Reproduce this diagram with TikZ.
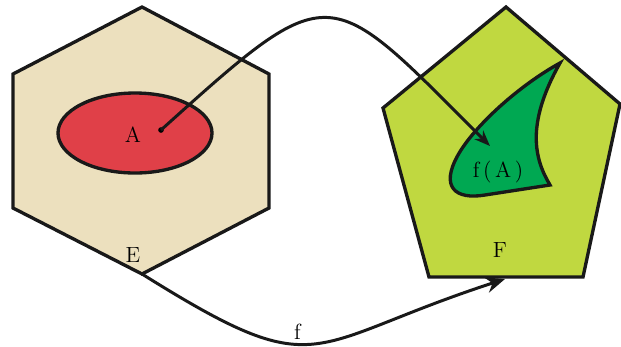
\documentclass[tikz,border=0pt]{standalone}
\usepackage{tikz}
\usetikzlibrary{arrows.meta, calc}
\definecolor{sandE}{RGB}{236,224,190}
\definecolor{redA}{RGB}{224,64,72}
\definecolor{limeF}{RGB}{192,216,64}
\definecolor{greenfA}{RGB}{0,168,82}

\begin{document}
\begin{tikzpicture}[x=0.02cm,y=-0.02cm,
    region/.style={draw=black!90,line width=1.9pt,line join=miter},
    map/.style={draw=black!90,line width=1.7pt},
    lbl/.style={font=\fontsize{12.5}{14}\selectfont,inner sep=1pt}]
    \useasboundingbox (0,0) rectangle (621,346);
    % ensemble E
    \draw[region,fill=sandE] (142,7) -- (269,74) -- (269,208) -- (142,274)
        -- (13,208) -- (13,74) -- cycle;
    \draw[region,fill=redA] (135,133) ellipse [x radius=77,y radius=40];
    % ensemble F
    \draw[region,fill=limeF] (506,7) -- (620,104) -- (583,277) -- (429,277)
        -- (383,108) -- cycle;
    \draw[region,fill=greenfA] (560,63) .. controls (520,85) and (475,125) .. (458,155)
        .. controls (440,187) and (455,200) .. (485,195) -- (550,185)
        .. controls (535,160) and (525,125) .. cycle;
    % etiquettes
    \node[lbl] (A) at (133,135) {A};
    \node[lbl] (fA) at (498,172) {f\,(\,A\,)};
    \node[lbl] (E) at (133,255) {E};
    \node[lbl] (F) at (500,250) {F};
    \coordinate (a) at (161,130);
    \coordinate (fa) at (490,146);
    \coordinate (e) at (142,274);
    \coordinate (f) at (505,279);
    % fleches
    \fill (a) circle (1.6pt);
    \draw[map,-{Stealth[length=9pt,width=7pt]}] (a) to[out=42,in=135,looseness=1.8] (fa);
    \draw[map,-{Stealth[length=11pt,width=9pt]}] (e) to[out=-32,in=198,looseness=1.5]
        node[lbl,pos=0.43,above=1pt] (flbl) {f} (f);
\end{tikzpicture}
\end{document}
